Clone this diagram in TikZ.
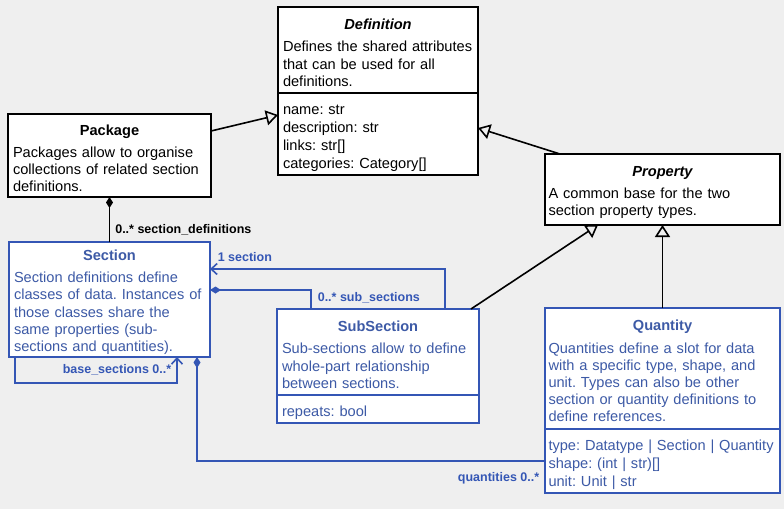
\documentclass[tikz,border=0pt]{standalone}
\usepackage{fontspec}
\setmainfont{Liberation Sans}
\usepackage{xcolor}
\usepackage{tikz}
\usetikzlibrary{positioning, arrows.meta, calc}
\definecolor{diagback}{HTML}{EFEFEF}
\definecolor{umlblue}{HTML}{3456B5}
\definecolor{umlink}{HTML}{3D5AA6}
\newcommand{\clshead}[1]{\makebox[\hsize][c]{\rule{0pt}{16pt}\bfseries #1}\\[5pt]}
\newcommand{\attrtop}{\rule{0pt}{18pt}}
\frenchspacing

\begin{document}
\begin{tikzpicture}[x=1pt, y=-1pt, font=\fontsize{14.6}{17.2}\selectfont,
 cls/.style={draw, line width=1.6pt, fill=white, anchor=north west, outer sep=0pt, inner xsep=5pt, inner ysep=0pt, align=left},
 bluecls/.style={cls, draw=umlblue, text=umlink},
 attrs/.style={font=\fontsize{14.6}{18}\selectfont},
 lbl/.style={font=\fontsize{12.5}{14}\selectfont\bfseries, inner sep=1pt},
 inherit/.style={line width=1.6pt, -{Triangle[open, length=12pt, width=15pt]}},
 owns/.style={line width=1.6pt, {Diamond[length=11pt, width=7pt]}-},
 refers/.style={line width=1.6pt, -{Straight Barb[length=6pt, width=11pt]}}]

\useasboundingbox[fill=diagback] (0,0) rectangle (784,509);

\node[cls, text width=190pt, minimum height=86pt](def) at (278,7){\clshead{\itshape Definition}Defines the shared attributes\\that can be used for all\\definitions.};
\node[cls, attrs, text width=190pt, minimum height=82pt, below=0pt of def](defattr){\attrtop name: str\\description: str\\links: str[]\\categories: Category[]};

\node[cls, text width=193pt, minimum height=83pt](pkg) at (8,114){\clshead{Package}Packages allow to organise\\collections of related section\\definitions.};

\node[cls, text width=228pt, inner xsep=3.5pt, minimum height=71pt](prop) at (545,154){\clshead{\itshape Property}A common base for the two\\section property types.};

\node[bluecls, text width=191pt, minimum height=115pt](sec) at (9,242){\clshead{Section}Section definitions define\\classes of data. Instances of\\those classes share the\\same properties (sub-\\sections and quantities).};

\node[bluecls, text width=192pt, minimum height=86pt](sub) at (277,309){\clshead{SubSection}Sub-sections allow to define\\whole-part relationship\\between sections.};
\node[bluecls, attrs, text width=192pt, minimum height=28pt, below=0pt of sub](subattr){\attrtop repeats: bool};

\node[bluecls, text width=228pt, inner xsep=3.5pt, minimum height=121pt](qty) at (545,308){\clshead{Quantity}Quantities define a slot for data\\with a specific type, shape, and\\unit. Types can also be other\\section or quantity definitions to\\define references.};
\node[bluecls, attrs, text width=228pt, inner xsep=3.5pt, minimum height=64pt, below=0pt of qty](qtyattr){\attrtop type: Datatype \textbar{} Section \textbar{} Quantity\\shape: (int \textbar{} str)[]\\unit: Unit \textbar{} str};

\draw[inherit] ($(pkg.north east)+(0,17)$) -- ($(defattr.north west)+(0,22)$);
\draw[inherit] ($(prop.north west)+(15,0)$) -- ($(defattr.north east)+(0,35)$);
\draw[inherit] ($(sub.north east)+(-8,0)$) -- ($(prop.south west)+(53,0)$);
\draw[inherit] (qty.north) -- (prop.south);

\draw[owns] (pkg.south) -- (sec.north) node[lbl, pos=0.73, anchor=west, xshift=4pt]{0..* section\_definitions};

\draw[refers, umlblue] ($(sub.north west)+(168,0)$) |- ($(sec.north east)+(0,27)$) node[lbl, pos=1, anchor=south west, xshift=6pt, yshift=6pt]{1 section};
\draw[owns, umlblue] ($(sec.north east)+(0,48)$) -| ($(sub.north west)+(34,0)$) node[lbl, pos=1, anchor=south west, xshift=5pt, yshift=4pt]{0..* sub\_sections};
\draw[refers, umlblue] ($(sec.south west)+(6,0)$) -- ++(0,26) -| ($(sec.south west)+(168,0)$) node[lbl, pos=0.75, anchor=east, xshift=-4pt]{base\_sections 0..*};
\draw[owns, umlblue] ($(sec.south east)+(-13,0)$) |- (qtyattr.west) node[lbl, pos=1, anchor=north east, xshift=-4pt, yshift=-10pt]{quantities 0..*};

\end{tikzpicture}
\end{document}
